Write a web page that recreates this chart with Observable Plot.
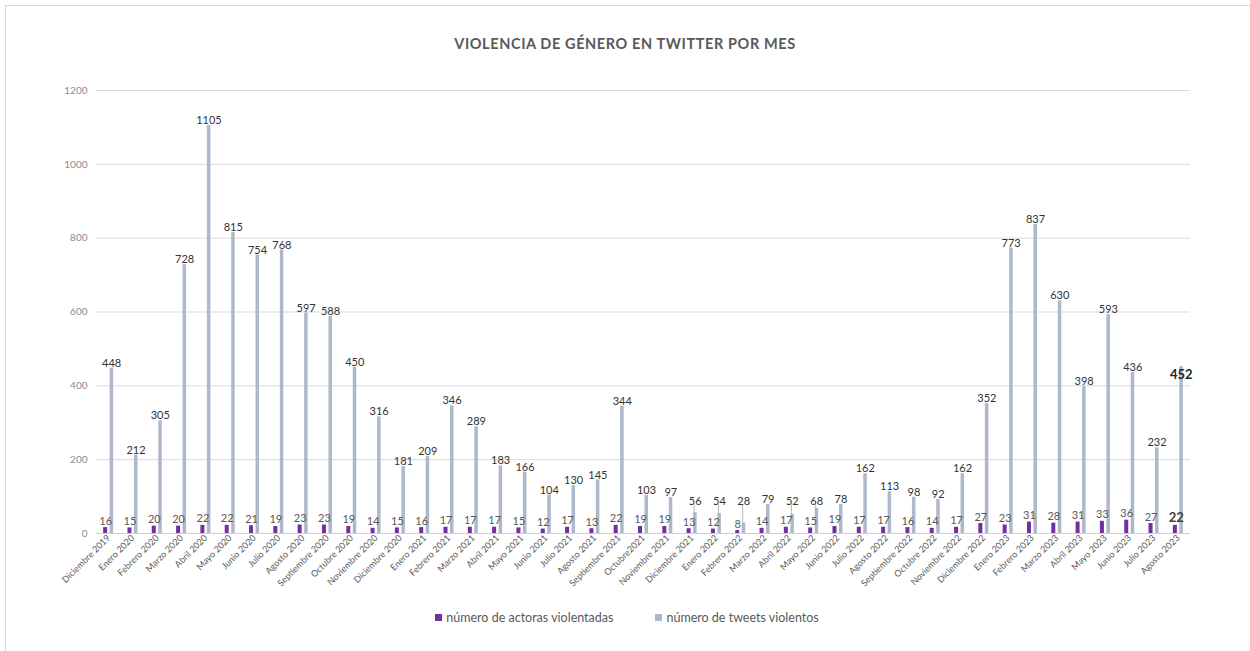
<!DOCTYPE html>
<html>
<head>
<meta charset="utf-8">
<script src="https://cdn.jsdelivr.net/npm/d3@7"></script>
<script src="https://cdn.jsdelivr.net/npm/@observablehq/plot@0.6"></script>
<style>
  html, body { margin: 0; padding: 0; background: #fff; }
  body { width: 1250px; height: 651px; position: relative; overflow: hidden; font-family: Lato, "Open Sans", sans-serif; }
  #frame { position: absolute; left: 5px; top: 5px; width: 1260px; height: 660px; border: 1px solid #d9d9d9; box-sizing: border-box; }
  #title { position: absolute; left: 0; top: 35px; width: 1250px; text-align: center; font-size: 14.5px; font-weight: 700; color: #595959; letter-spacing: 0.6px; }
  #chart { position: absolute; left: 0; top: 70px; }
  #legend { position: absolute; top: 610px; left: 0; width: 1250px; display: flex; justify-content: center; gap: 42px; font-size: 12.5px; color: #595959; padding-left: 2px; }
  #legend span.sw { display: inline-block; width: 7px; height: 7px; margin-right: 4px; vertical-align: 1px; }
</style>
</head>
<body>
<div id="frame"></div>
<div id="title">VIOLENCIA DE GÉNERO EN TWITTER POR MES</div>
<div id="chart"></div>
<div id="legend"></div>
<script>
const months = [
  "Diciembre 2019","Enero 2020","Febrero 2020","Marzo 2020","Abril 2020","Mayo 2020","Junio 2020","Julio 2020","Agosto 2020","Septiembre 2020",
  "Octubre 2020","Noviembre 2020","Diciembre 2020","Enero 2021","Febrero 2021","Marzo 2021","Abril 2021","Mayo 2021","Junio 2021","Julio 2021",
  "Agosto 2021","Septiembre 2021","Octubre2021","Noviembre 2021","Diciembre 2021","Enero 2022","Febrero 2022","Marzo 2022","Abril 2022","Mayo 2022",
  "Junio 2022","Julio 2022","Agosto 2022","Septiembre 2022","Octubre 2022","Noviembre 2022","Diciembre 2022","Enero 2023","Febrero 2023","Marzo 2023",
  "Abril 2023","Mayo 2023","Junio 2023","Julio 2023","Agosto 2023"
];
const actoras = [
  16,15,20,20,22,22,21,19,23,23,
  19,14,15,16,17,17,17,15,12,17,
  13,22,19,19,13,12,8,14,17,15,
  19,17,17,16,14,17,27,23,31,28,
  31,33,36,27,22
];
const tweets = [
  448,212,305,728,1105,815,754,768,597,588,
  450,316,181,209,346,289,183,166,104,130,
  145,344,103,97,56,54,28,79,52,68,
  78,162,113,98,92,162,352,773,837,630,
  398,593,436,232,452
];
const yTicks = [0,200,400,600,800,1000,1200];
const seriesNames = ["número de actoras violentadas","número de tweets violentos"];
const seriesColors = ["#7030a0","#adb9ca"];
const highlightMonth = "Agosto 2023";

const data = months.map((m, i) => ({month: m, actoras: actoras[i], tweets: tweets[i]}));
const normal = data.filter(d => d.month !== highlightMonth);
const hi = data.filter(d => d.month === highlightMonth);

// labels of very short bars are lifted so they clear the small-bar labels (with a leader line)
const minLabel = 72;
const labelY = d => Math.max(d.tweets, minLabel);
const lifted = data.filter(d => d.tweets < minLabel);

const W = 1250, mL = 96, mR = 60;
const bw = (W - mL - mR) / months.length;

const chart = Plot.plot({
  width: W,
  height: 530,
  marginLeft: mL,
  marginRight: mR,
  marginTop: 20,
  marginBottom: 67,
  style: {fontFamily: "Lato, 'Open Sans', sans-serif", background: "transparent"},
  x: {domain: months, padding: 0, round: false, axis: null},
  y: {domain: [0, 1200], axis: null},
  marks: [
    Plot.gridY(yTicks, {stroke: "#d9d9d9", strokeOpacity: 1}),
    Plot.axisY(yTicks, {tickSize: 0, tickPadding: 9, fill: "#8c8c8c", fontSize: 10, tickFormat: d => String(d)}),
    Plot.axisX({tickRotate: -45, tickSize: 0, tickPadding: 3, fill: "#595959", fontSize: 9, label: null}),
    Plot.barY(data, {x: "month", y: "actoras", fill: seriesColors[0], insetLeft: bw/2 - 5, insetRight: bw/2 + 1}),
    Plot.barY(data, {x: "month", y: "tweets", fill: seriesColors[1], insetLeft: bw/2 + 1.5, insetRight: bw/2 - 5}),
    Plot.ruleY([0], {stroke: "#d0d0d0"}),
    Plot.ruleX(lifted, {x: "month", y1: "tweets", y2: labelY, dx: 2, stroke: "#a6a6a6", strokeWidth: 0.8, insetBottom: 2, insetTop: 2}),
    Plot.text(normal, {x: "month", y: "actoras", text: d => String(d.actoras), dx: -3, dy: -3, lineAnchor: "bottom", fill: "#595959", fontSize: 11}),
    Plot.text(normal, {x: "month", y: labelY, text: d => String(d.tweets), dx: 3, dy: -5, lineAnchor: "middle", fill: "#333333", fontSize: 11}),
    Plot.text(hi, {x: "month", y: "actoras", text: d => String(d.actoras), dx: -2, dy: -3, lineAnchor: "bottom", fill: "#404040", fontSize: 13, fontWeight: "bold"}),
    Plot.text(hi, {x: "month", y: "tweets", text: d => String(d.tweets), dx: 3, dy: 8, lineAnchor: "middle", fill: "#222222", fontSize: 13, fontWeight: "bold"})
  ]
});
document.getElementById("chart").appendChild(chart);

const legend = document.getElementById("legend");
seriesNames.forEach((name, i) => {
  const item = document.createElement("div");
  const sw = document.createElement("span");
  sw.className = "sw";
  sw.style.background = seriesColors[i];
  item.appendChild(sw);
  item.appendChild(document.createTextNode(name));
  legend.appendChild(item);
});
</script>
</body>
</html>
